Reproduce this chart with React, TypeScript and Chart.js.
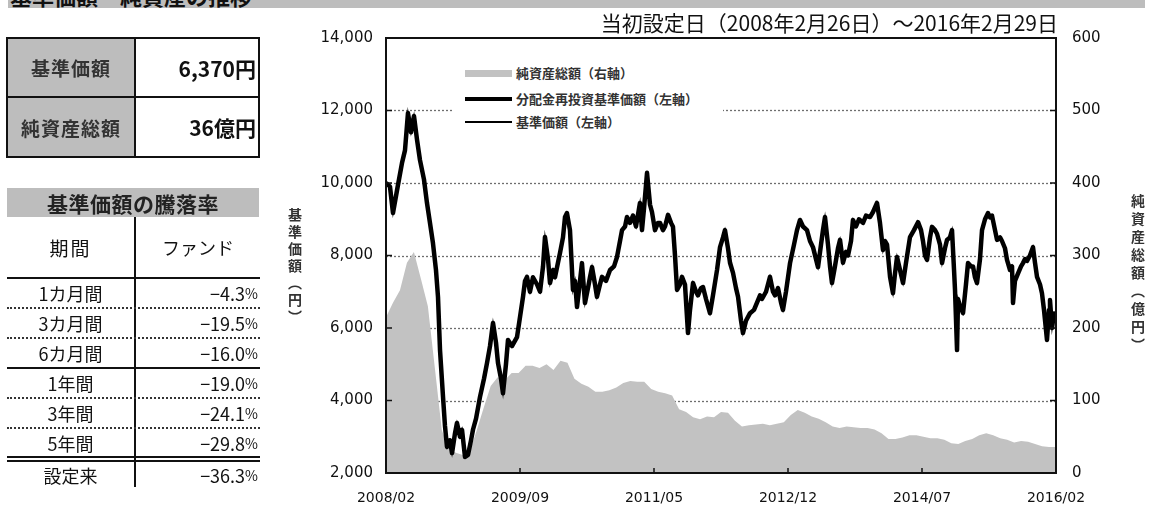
import React, { useEffect, useRef } from 'react';
import { Chart, registerables } from 'chart.js';

Chart.register(...registerables);

// ---------- data ----------
const xTickMonths = [0, 19.2, 38.4, 57.6, 76.8, 96];
const xTickLabels = ['2008/02', '2009/09', '2011/05', '2012/12', '2014/07', '2016/02'];
const yLeftGrid = [4000, 6000, 8000, 10000, 12000];

// months since 2008/02
const navMonths = [
  0, 0.57, 1.0, 1.58, 2.29, 2.72, 3.15, 3.58, 4.01, 4.44,
  4.87, 5.44, 5.87, 6.3, 6.73, 7.16, 7.45, 7.74, 8.17, 8.45,
  8.74, 9.17, 9.46, 9.89, 10.17, 10.6, 10.89, 11.32, 11.75, 12.18,
  12.47, 12.9, 13.47, 14.04, 14.47, 14.9, 15.33, 15.76, 16.05, 16.48,
  16.76, 17.19, 17.48, 18.05, 18.77, 19.2, 19.63, 19.92, 20.2, 20.63,
  21.06, 21.64, 22.07, 22.5, 22.78, 23.21, 23.5, 23.93, 24.21, 24.64,
  24.93, 25.36, 25.65, 25.93, 26.36, 26.79, 27.08, 27.37, 27.8, 28.08,
  28.51, 28.94, 29.23, 29.52, 29.95, 30.23, 30.66, 30.95, 31.52, 32.1,
  32.67, 33.1, 33.53, 33.82, 34.25, 34.53, 34.96, 35.39, 35.82, 36.39,
  36.68, 36.97, 37.4, 37.83, 38.11, 38.54, 38.97, 39.26, 39.69, 39.98,
  40.41, 40.84, 41.12, 41.41, 41.7, 42.13, 42.41, 42.84, 43.27, 43.56,
  43.99, 44.42, 44.7, 45.13, 45.42, 45.85, 46.42, 46.85, 47.43, 47.86,
  48.29, 48.57, 49.0, 49.29, 49.72, 50.15, 50.44, 50.87, 51.15, 51.58,
  52.16, 52.73, 53.16, 53.59, 53.87, 54.45, 55.02, 55.45, 55.74, 56.17,
  56.6, 56.88, 57.31, 57.89, 58.46, 58.89, 59.32, 59.75, 60.32, 60.75,
  61.18, 61.61, 61.9, 62.33, 62.61, 62.9, 63.33, 63.62, 63.9, 64.33,
  64.76, 65.05, 65.48, 65.91, 66.2, 66.63, 66.91, 67.34, 67.77, 68.35,
  68.78, 69.35, 69.78, 70.35, 70.78, 71.21, 71.5, 71.79, 72.22, 72.64,
  72.93, 73.22, 73.65, 74.08, 74.51, 75.08, 75.65, 76.23, 76.66, 76.94,
  77.23, 77.52, 77.95, 78.23, 78.66, 78.95, 79.38, 79.67, 80.09, 80.38,
  80.81, 81.1, 81.39, 81.53, 81.82, 81.96, 82.25, 82.68, 83.1, 83.39,
  83.82, 84.11, 84.39, 84.68, 85.11, 85.4, 85.83, 86.26, 86.54, 86.83,
  87.26, 87.55, 87.98, 88.26, 88.69, 88.98, 89.41, 89.7, 89.84, 90.12,
  90.55, 90.99, 91.27, 91.56, 91.85, 92.27, 92.7, 92.99, 93.28, 93.71,
  93.99, 94.28, 94.71, 95.0, 95.14, 95.43, 95.71, 96.0,
];

// 分配金再投資基準価額 / 基準価額 (円)
const navValues = [
  10000, 9900, 9170, 9800, 10550, 10900, 11930, 11400, 11850, 11200,
  10630, 10100, 9450, 8900, 8340, 7600, 6860, 5390, 4100, 3300,
  2720, 2900, 2550, 3100, 3380, 3000, 3190, 2440, 2500, 2900,
  3200, 3500, 4100, 4600, 5030, 5500, 6140, 5600, 5030, 4600,
  4200, 5000, 5670, 5500, 5750, 6300, 6860, 7300, 7410, 7000,
  7400, 7200, 7000, 7700, 8510, 7900, 7240, 7600, 7400, 7800,
  8070, 8500, 9060, 9170, 8700, 7050, 7300, 6580, 7300, 7790,
  6690, 7100, 7400, 7680, 7200, 6860, 7200, 7410, 7300, 7600,
  7700, 7960, 8400, 8700, 8800, 9060, 8900, 9100, 8800, 9450,
  8700, 9300, 10280, 9400, 9200, 8700, 8900, 8900, 8700, 8800,
  9120, 8900, 8790, 8000, 7050, 7200, 7410, 7200, 5860, 6500,
  7240, 7000, 6900, 7100, 7130, 6800, 6410, 6900, 7600, 8230,
  8500, 8700, 8200, 7800, 7520, 7100, 6860, 6200, 5860, 6200,
  6410, 6500, 6700, 6900, 6800, 7000, 7410, 7000, 6900, 7100,
  6700, 6500, 7000, 7790, 8300, 8700, 8980, 8800, 8700, 8400,
  8230, 7900, 7680, 8300, 8700, 9060, 8300, 7700, 7240, 7700,
  8200, 8430, 7800, 8100, 8000, 8400, 8980, 8800, 9000, 8900,
  9100, 9060, 9200, 9450, 8900, 8150, 8400, 8300, 7410, 6960,
  7500, 7960, 7600, 7240, 7800, 8510, 8700, 8920, 8700, 8400,
  8000, 7880, 8500, 8790, 8700, 8600, 8300, 7790, 8200, 8430,
  8500, 8700, 7600, 7050, 5390, 6800, 6600, 6410, 7200, 7790,
  7700, 7700, 7400, 7240, 7900, 8700, 9000, 9170, 9050, 9100,
  8700, 8430, 8500, 8400, 8200, 7880, 7600, 7700, 6690, 7300,
  7500, 7700, 7790, 7900, 7850, 8000, 8230, 7800, 7410, 7200,
  6960, 6500, 5670, 6500, 6770, 6000, 6400, 6370,
];

// 純資産総額 (億円), monthly from 2008/02
const aumValues = [
  215, 235, 252, 290, 305, 268, 230, 145, 59, 34,
  28, 25, 30, 59, 90, 120, 132, 128, 138, 138,
  148, 148, 145, 150, 142, 155, 152, 130, 123, 119,
  112, 112, 114, 118, 124, 127, 126, 126, 116, 112,
  110, 107, 88, 84, 77, 74, 78, 77, 84, 83,
  72, 64, 66, 67, 68, 66, 68, 70, 80, 87,
  83, 78, 75, 70, 64, 62, 64, 63, 62, 62,
  60, 55, 47, 47, 49, 52, 52, 50, 48, 48,
  46, 41, 40, 44, 47, 52, 55, 52, 48, 46,
  42, 44, 43, 40, 37, 36, 36,
];

const summaryLabels = ['基準価額', '純資産総額'];
const summaryValues = ['6,370円', '36億円'];

const periodLabels = ['1カ月間', '3カ月間', '6カ月間', '1年間', '3年間', '5年間', '設定来'];
const fundReturns = [-4.3, -19.5, -16.0, -19.0, -24.1, -29.8, -36.3];

const legendLabels = ['純資産総額（右軸）', '分配金再投資基準価額（左軸）', '基準価額（左軸）'];

// ---------- styles ----------
const JP = '"Noto Sans CJK JP", "Noto Sans", sans-serif';
const NUM = '"DejaVu Sans", sans-serif';

const gridPlugin = {
  id: 'dottedGrid',
  beforeDatasetsDraw(chart: any) {
    const ctx = chart.ctx;
    const a = chart.chartArea;
    const ys = chart.scales.y;
    ctx.save();
    ctx.globalAlpha = 1;
    ctx.strokeStyle = '#6e6e6e';
    ctx.lineWidth = 1.3;
    ctx.setLineDash([2, 2]);
    yLeftGrid.forEach((v) => {
      const py = Math.round(ys.getPixelForValue(v)) + 0.5;
      ctx.beginPath();
      ctx.moveTo(a.left, py);
      ctx.lineTo(a.right, py);
      ctx.stroke();
    });
    ctx.restore();
  },
};

const framePlugin = {
  id: 'frame',
  afterDatasetsDraw(chart: any) {
    const { ctx, chartArea: a, scales } = chart;
    ctx.save();
    ctx.strokeStyle = '#111';
    ctx.lineWidth = 1.5;
    ctx.setLineDash([]);
    const seg = (x1: number, y1: number, x2: number, y2: number) => {
      ctx.beginPath();
      ctx.moveTo(x1, y1);
      ctx.lineTo(x2, y2);
      ctx.stroke();
    };
    scales.y.ticks.forEach((t: any) => {
      const py = scales.y.getPixelForValue(t.value);
      seg(a.left, py, a.left + 6, py);
      seg(a.right - 6, py, a.right, py);
    });
    scales.x.ticks.forEach((t: any) => {
      const px = scales.x.getPixelForValue(t.value);
      seg(px, a.bottom, px, a.bottom - 5);
    });
    ctx.lineWidth = 2;
    ctx.strokeRect(a.left, a.top, a.right - a.left, a.bottom - a.top);
    ctx.restore();
  },
};

function ChartCanvas() {
  const ref = useRef<HTMLCanvasElement | null>(null);
  useEffect(() => {
    if (!ref.current) return;
    const navData = navMonths.map((m, i) => ({ x: m, y: navValues[i] }));
    const aumData = aumValues.map((v, i) => ({ x: i, y: v }));
    const chart = new Chart(ref.current, {
      type: 'line',
      data: {
        datasets: [
          {
            label: legendLabels[1],
            data: navData,
            yAxisID: 'y',
            borderColor: '#000',
            borderWidth: 4.5,
            pointRadius: 0,
            tension: 0,
            borderJoinStyle: 'round',
          },
          {
            label: legendLabels[2],
            data: navData,
            yAxisID: 'y',
            borderColor: '#000',
            borderWidth: 1.5,
            pointRadius: 0,
            tension: 0,
          },
          {
            label: legendLabels[0],
            data: aumData,
            yAxisID: 'y2',
            borderWidth: 0,
            borderColor: 'rgba(0,0,0,0)',
            backgroundColor: '#c2c2c2',
            fill: 'origin',
            pointRadius: 0,
            tension: 0,
          },
        ],
      },
      options: {
        responsive: false,
        animation: false,
        devicePixelRatio: 1,
        layout: { padding: { top: 38, left: 0, right: 0, bottom: 0 } },
        plugins: { legend: { display: false }, tooltip: { enabled: false } },
        scales: {
          x: {
            type: 'linear',
            min: 0,
            max: 96,
            afterBuildTicks: (s: any) => {
              s.ticks = xTickMonths.map((v) => ({ value: v }));
            },
            afterFit: (s: any) => {
              s.height = 37;
            },
            grid: { display: false },
            border: { display: false },
            ticks: {
              autoSkip: false,
              maxRotation: 0,
              padding: 9,
              color: '#111',
              font: { family: NUM, size: 14 },
              callback: (_v: any, i: number) => xTickLabels[i],
            },
          },
          y: {
            position: 'left',
            min: 2000,
            max: 14000,
            afterFit: (s: any) => {
              s.width = 386;
            },
            grid: { display: false, drawTicks: false },
            border: { display: false },
            ticks: {
              stepSize: 2000,
              padding: 13,
              color: '#111',
              font: { family: NUM, size: 15 },
              callback: (v: any) => Number(v).toLocaleString('en-US'),
            },
          },
          y2: {
            position: 'right',
            min: 0,
            max: 600,
            afterFit: (s: any) => {
              s.width = 97;
            },
            grid: { display: false, drawTicks: false },
            border: { display: false },
            ticks: {
              stepSize: 100,
              padding: 16,
              color: '#111',
              font: { family: NUM, size: 15 },
            },
          },
        },
      },
      plugins: [gridPlugin, framePlugin],
    } as any);
    return () => chart.destroy();
  }, []);
  return (
    <canvas
      ref={ref}
      width={1153}
      height={510}
      style={{ position: 'absolute', left: 0, top: 0, width: 1153, height: 510 }}
    />
  );
}

const abs = (s: React.CSSProperties): React.CSSProperties => ({ position: 'absolute', ...s });

export default function App() {
  const rowBounds = [
    [278, 308],
    [308, 338],
    [338, 368],
    [368, 398],
    [398, 428],
    [428, 457],
    [462, 487],
  ];
  const dotted = [308, 338, 398, 428];
  const solid = [277, 367, 456, 460];
  const fmt = (v: number) => '−' + Math.abs(v).toFixed(1);

  return (
    <div style={abs({ left: 0, top: 0, width: 1153, height: 510, background: '#fff', overflow: 'hidden', fontFamily: JP })}>
      <ChartCanvas />

      {/* top banner */}
      <div style={abs({ left: 8, top: 0, width: 1137, height: 8, background: '#bdbdbd', overflow: 'hidden' })}>
        <div style={abs({ left: 2, top: -16, fontSize: 22, lineHeight: '22px', fontWeight: 700, color: '#111', whiteSpace: 'nowrap' })}>
          基準価額・純資産の推移
        </div>
      </div>

      {/* period title */}
      <div style={abs({ right: 1153 - 1058, top: 10, fontSize: 21, lineHeight: '24px', color: '#111', whiteSpace: 'nowrap' })}>
        当初設定日（2008年2月26日）～2016年2月29日
      </div>

      {/* axis titles */}
      <div style={abs({ left: 286, top: 208, writingMode: 'vertical-rl', fontSize: 14, letterSpacing: 3, color: '#333', fontWeight: 700, lineHeight: '18px' })}>
        基準価額（円）
      </div>
      <div style={abs({ left: 1129, top: 194, writingMode: 'vertical-rl', fontSize: 14, letterSpacing: 4, color: '#333', fontWeight: 700, lineHeight: '18px' })}>
        純資産総額（億円）
      </div>

      {/* legend */}
      <div style={abs({ left: 452, top: 58, width: 271, height: 76, background: '#fff' })}>
        <div style={abs({ left: 13, top: 12, width: 47, height: 7, background: '#c2c2c2' })} />
        <div style={abs({ left: 13, top: 39, width: 47, height: 4, background: '#000' })} />
        <div style={abs({ left: 13, top: 63, width: 47, height: 2, background: '#000' })} />
        {legendLabels.map((t, i) => (
          <div
            key={t}
            style={abs({ left: 64, top: [6, 32, 55][i], fontSize: 13, lineHeight: '18px', color: '#333', fontWeight: 700, whiteSpace: 'nowrap' })}
          >
            {t}
          </div>
        ))}
      </div>

      {/* summary table */}
      <div style={abs({ left: 6, top: 37, width: 254, height: 121, border: '2px solid #111', boxSizing: 'border-box' })} />
      {summaryLabels.map((l, i) => (
        <React.Fragment key={l}>
          <div style={abs({ left: 8, top: i === 0 ? 39 : 98, width: 126, height: i === 0 ? 57 : 58, background: '#bdbdbd', display: 'flex', alignItems: 'center', justifyContent: 'center', fontSize: 19, fontWeight: 700, color: '#333', letterSpacing: 1 })}>
            {l}
          </div>
          <div style={abs({ left: 136, top: i === 0 ? 39 : 98, width: 120, height: i === 0 ? 57 : 58, display: 'flex', alignItems: 'center', justifyContent: 'flex-end', fontSize: 21, fontWeight: 700, color: '#111' })}>
            {summaryValues[i]}
          </div>
        </React.Fragment>
      ))}
      <div style={abs({ left: 134, top: 37, width: 2, height: 121, background: '#111' })} />
      <div style={abs({ left: 6, top: 96, width: 254, height: 2, background: '#111' })} />

      {/* returns table */}
      <div style={abs({ left: 7, top: 188, width: 252, height: 29, background: '#bdbdbd', display: 'flex', alignItems: 'center', justifyContent: 'center', fontSize: 21, fontWeight: 700, color: '#222', letterSpacing: 0.5 })}>
        基準価額の騰落率
      </div>
      <div style={abs({ left: 7, top: 217, width: 127, height: 60, display: 'flex', alignItems: 'center', justifyContent: 'center', fontSize: 19, color: '#111', letterSpacing: 2 })}>
        期間
      </div>
      <div style={abs({ left: 136, top: 217, width: 124, height: 60, display: 'flex', alignItems: 'center', justifyContent: 'center', fontSize: 18, color: '#111' })}>
        ファンド
      </div>
      <div style={abs({ left: 134, top: 217, width: 2, height: 270, background: '#111' })} />
      {solid.map((y) => (
        <div key={'s' + y} style={abs({ left: 7, top: y, width: 253, height: 2, background: '#111' })} />
      ))}
      {dotted.map((y) => (
        <div key={'d' + y} style={abs({ left: 7, top: y - 1, width: 253, height: 0, borderTop: '2px dotted #333' })} />
      ))}
      {periodLabels.map((p, i) => {
        const [t, b] = rowBounds[i];
        return (
          <React.Fragment key={p}>
            <div style={abs({ left: 7, top: t, width: 127, height: b - t, display: 'flex', alignItems: 'center', justifyContent: 'center', fontSize: 18, color: '#111', lineHeight: 1 })}>
              {p}
            </div>
            <div style={abs({ left: 136, top: t, width: 122, height: b - t, display: 'flex', alignItems: 'center', justifyContent: 'flex-end', fontSize: 18, color: '#111', lineHeight: 1 })}>
              {fmt(fundReturns[i])}
              <span style={{ fontSize: 14 }}>%</span>
            </div>
          </React.Fragment>
        );
      })}
    </div>
  );
}
